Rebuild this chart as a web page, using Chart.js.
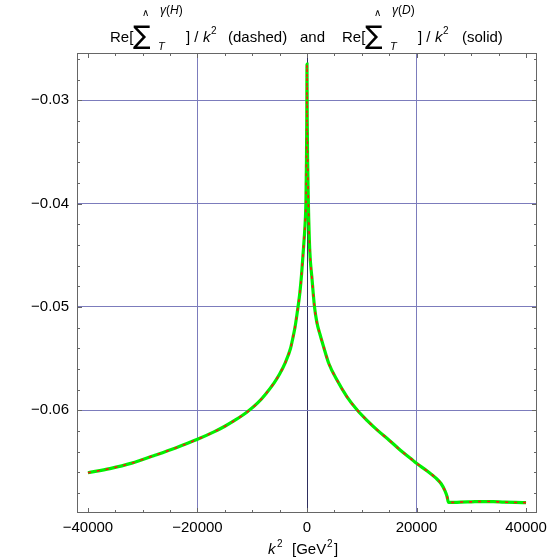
<!DOCTYPE html>
<html><head><meta charset="utf-8">
<script src="https://cdn.jsdelivr.net/npm/chart.js@4.4.0/dist/chart.umd.min.js"></script>
<style>
html,body{margin:0;padding:0;background:#fff;}
#wrap{position:relative;width:560px;height:560px;overflow:hidden;}
canvas{position:absolute;left:0;top:0;}
.t{position:absolute;white-space:pre;line-height:1;font-family:"Liberation Sans",Arial,sans-serif;color:#000;}
</style></head><body>
<div id="wrap"><canvas id="c" width="560" height="560"></canvas><div id="labels"></div></div>
<script>
// ---- data ----
const k2Values = [-40000,-36000,-32000,-28000,-24000,-20000,-17000,-15000,-13000,-11000,-9000,-7500,-6000,-5000,-4000,-3000,-2700,-2200,-1800,-1300,-1000,-700,-450,-300,-200,-100,-40,0,40,120,250,500,900,1370,1800,2340,3000,4000,5500,7300,9200,11000,13000,15000,17000,19000,20000,22000,23500,24500,25200,25600,25800,26200,28000,30000,32000,34000,36000,38000,40000];
const sigmaH = [-0.06605,-0.06565,-0.06512,-0.06440,-0.06365,-0.06282,-0.06210,-0.06155,-0.06092,-0.06020,-0.05930,-0.05840,-0.05735,-0.05650,-0.05545,-0.05400,-0.05330,-0.05200,-0.05060,-0.04860,-0.04690,-0.04475,-0.04290,-0.04150,-0.04000,-0.03600,-0.03200,-0.02650,-0.03200,-0.03600,-0.04000,-0.04450,-0.04720,-0.05000,-0.05150,-0.05260,-0.05380,-0.05550,-0.05710,-0.05870,-0.06000,-0.06100,-0.06200,-0.06290,-0.06385,-0.06470,-0.06514,-0.06590,-0.06655,-0.06712,-0.06780,-0.06840,-0.06890,-0.06893,-0.06890,-0.06887,-0.06884,-0.06885,-0.06890,-0.06893,-0.06895];
const sigmaD = [-0.06605,-0.06565,-0.06512,-0.06440,-0.06365,-0.06282,-0.06210,-0.06155,-0.06092,-0.06020,-0.05930,-0.05840,-0.05735,-0.05650,-0.05545,-0.05400,-0.05330,-0.05200,-0.05060,-0.04860,-0.04690,-0.04475,-0.04290,-0.04150,-0.04000,-0.03600,-0.03200,-0.02650,-0.03200,-0.03600,-0.04000,-0.04450,-0.04720,-0.05000,-0.05150,-0.05260,-0.05380,-0.05550,-0.05710,-0.05870,-0.06000,-0.06100,-0.06200,-0.06290,-0.06385,-0.06470,-0.06514,-0.06590,-0.06655,-0.06712,-0.06780,-0.06840,-0.06890,-0.06893,-0.06890,-0.06887,-0.06884,-0.06885,-0.06890,-0.06893,-0.06895];
const xTickValues = [-40000,-20000,0,20000,40000];
const yTickValues = [-0.06,-0.05,-0.04,-0.03];
const xMinorStep = 5000;
const yMinorStep = 0.002;

const FONT = '"Liberation Sans", Arial, sans-serif';
const minus = '\u2212';

// ---- frame + inward ticks plugin ----
const framePlugin = {
  id: 'frame',
  afterDraw(chart) {
    const {ctx, chartArea: a, scales: {x, y}} = chart;
    ctx.save();
    ctx.strokeStyle = '#666666';
    ctx.lineWidth = 1;
    ctx.strokeRect(Math.round(a.left)+0.5, Math.round(a.top)+0.5, Math.round(a.right-a.left)-1, Math.round(a.bottom-a.top)-1);
    ctx.beginPath();
    for (let v = -40000; v <= 40000; v += xMinorStep) {
      const px = Math.round(x.getPixelForValue(v)) + 0.5;
      const len = (v % 20000 === 0) ? 5 : 3;
      ctx.moveTo(px, a.bottom); ctx.lineTo(px, a.bottom - len);
      ctx.moveTo(px, a.top); ctx.lineTo(px, a.top + len);
    }
    for (let i = -34; i <= -13; i++) {
      const v = i * yMinorStep;
      const py = Math.round(y.getPixelForValue(v)) + 0.5;
      const len = (i % 5 === 0) ? 5 : 3;
      ctx.moveTo(a.left, py); ctx.lineTo(a.left + len, py);
      ctx.moveTo(a.right, py); ctx.lineTo(a.right - len, py);
    }
    ctx.stroke();
    ctx.restore();
  }
};

const ctx = document.getElementById('c').getContext('2d');
new Chart(ctx, {
  type: 'line',
  data: {
    datasets: [
      {
        label: 'Re[Sigma_T^gamma(H)]/k^2 (dashed)',
        data: k2Values.map((k, i) => ({x: k, y: sigmaH[i]})),
        borderColor: '#ff1010',
        borderWidth: 1.6,
        borderDash: [3, 6],
        pointRadius: 0,
        cubicInterpolationMode: 'monotone',
        order: 1
      },
      {
        label: 'Re[Sigma_T^gamma(D)]/k^2 (solid)',
        data: k2Values.map((k, i) => ({x: k, y: sigmaD[i]})),
        borderColor: '#00f000',
        borderWidth: 3.2,
        pointRadius: 0,
        cubicInterpolationMode: 'monotone',
        order: 2
      }
    ]
  },
  options: {
    responsive: false,
    animation: false,
    devicePixelRatio: 1,
    layout: {padding: {top: 53, right: 23, left: 0, bottom: 0}},
    plugins: {legend: {display: false}, tooltip: {enabled: false}, title: {display: false}},
    scales: {
      x: {
        type: 'linear',
        min: -42000, max: 42000,
        afterBuildTicks: s => { s.ticks = xTickValues.map(v => ({value: v})); },
        afterFit: s => { s.height = 47; },
        border: {display: false},
        grid: {
          drawTicks: false,
          lineWidth: 1,
          color: c => (c.tick && c.tick.value === 0) ? '#2e2e5e' : ((c.tick && Math.abs(c.tick.value) === 40000) ? 'rgba(0,0,0,0)' : '#7c7cbc')
        },
        ticks: {
          padding: 6,
          color: '#000',
          font: {family: FONT, size: 15},
          maxRotation: 0,
          callback: v => v < 0 ? minus + Math.abs(v) : String(v)
        }
      },
      y: {
        type: 'linear',
        min: -0.06995, max: -0.02542,
        afterBuildTicks: s => { s.ticks = yTickValues.map(v => ({value: v})); },
        afterFit: s => { s.width = 77; },
        border: {display: false},
        grid: {drawTicks: false, lineWidth: 1, color: '#7c7cbc'},
        ticks: {
          padding: 8,
          color: '#000',
          font: {family: FONT, size: 15},
          callback: v => minus + Math.abs(v).toFixed(2)
        }
      }
    }
  },
  plugins: [framePlugin]
});

// ---- title and axis label as real text ----
const labels = document.getElementById('labels');
function put(x, baseline, size, html, extra) {
  const s = document.createElement('span');
  s.className = 't';
  s.style.left = x + 'px';
  s.style.top = (baseline - 0.8465 * size) + 'px';
  s.style.fontSize = size + 'px';
  if (extra) s.style.cssText += extra;
  s.innerHTML = html;
  labels.appendChild(s);
}
function sumBlock(x0, sup) {
  put(x0, 42, 15, 'Re[');
  put(x0 + 23, 44, 26, '\u2211', 'font-family:"DejaVu Sans";');
  put(x0 + 32, 16, 10, '\u2227');
  put(x0 + 50, 14, 12, '<i>\u03b3</i>(<i>' + sup + '</i>)');
  put(x0 + 48, 50, 11, '<i>T</i>');
  put(x0 + 76, 42, 15, '] / ');
  put(x0 + 93, 42, 15, '<i>k</i>');
  put(x0 + 101, 34, 10, '2');
}
sumBlock(110, 'H');
put(228, 42, 15, '(dashed)');
put(300, 42, 15, 'and');
sumBlock(342, 'D');
put(462, 42, 15, '(solid)');

put(268, 554, 15, '<i>k</i>');
put(277, 547, 10, '2');
put(292, 554, 15, '[GeV');
put(327, 547, 10, '2');
put(334, 554, 15, ']');
</script>
</body></html>
